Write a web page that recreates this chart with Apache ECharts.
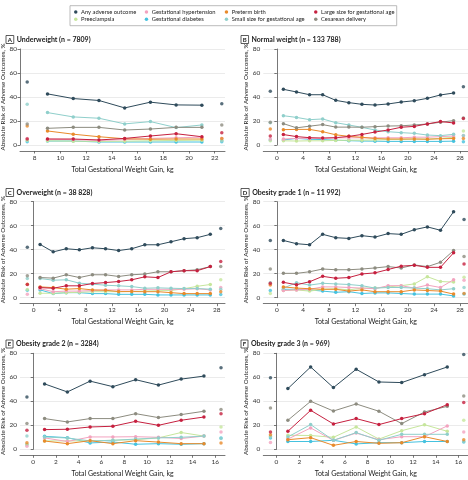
<!DOCTYPE html>
<html><head><meta charset="utf-8">
<script src="https://cdn.jsdelivr.net/npm/echarts@6/dist/echarts.min.js"></script>
<style>html,body{margin:0;padding:0;background:#fff}#c{width:468px;height:480px}</style>
</head><body><div id="c"></div>
<script>
// ---------- DATA (first and last entries are the unconnected end points) ----------
const seriesNames = ['Any adverse outcome','Gestational hypertension','Preterm birth','Large size for gestational age','Preeclampsia','Gestational diabetes','Small size for gestational age','Cesarean delivery'];

const A_x   = [7.42, 9, 11, 13, 15, 17, 19, 21, 22.55];
const A_any = [52.4, 42.6, 38.7, 37.1, 30.9, 35.7, 33.4, 33.2, 34.3];
const A_gh  = [5.5, 4.8, 4.5, 3.8, 4.5, 5.5, 6, 6.5, 5.5];
const A_ptb = [15.8, 11.7, 9, 6.9, 5.2, 4.8, 5, 5, 5.4];
const A_lga = [5, 5, 5, 4.2, 5.5, 7.5, 9.4, 6.9, 10.3];
const A_pe  = [4, 3.5, 3.2, 3, 3.2, 3.5, 3.8, 4, 4];
const A_gd  = [2.8, 3.3, 3.3, 2.5, 2.5, 2.5, 2.5, 2.5, 2.8];
const A_sga = [34, 27, 23.4, 22.3, 17.6, 19.5, 14.5, 16.7, 3.5];
const A_cs  = [17.5, 13.9, 14.7, 14.7, 12.5, 13.3, 14.7, 14.7, 16.7];
const A_ticks = [8, 10, 12, 14, 16, 18, 20, 22];

const B_x   = [-1, 1, 3, 5, 7, 9, 11, 13, 15, 17, 19, 21, 23, 25, 27, 28.5];
const B_any = [44.7, 46.4, 44.2, 41.9, 41.9, 37.2, 35.3, 33.9, 33.3, 34.2, 35.8, 36.9, 38.9, 41.7, 43.3, 48.6];
const B_gh  = [5, 5, 5.5, 5.5, 5.5, 6, 6, 6, 6, 6, 6, 6.5, 6.5, 7, 7.5, 7.8];
const B_ptb = [13.3, 12.8, 13, 13, 11.1, 8.5, 7.2, 6.4, 5.4, 5, 5, 5, 4.8, 5.2, 5.4, 5.5];
const B_lga = [7.5, 8.7, 7, 6.1, 5.8, 6.1, 7.2, 8.8, 10.8, 12.5, 14.8, 15.5, 17.6, 19.5, 18.4, 22];
const B_pe  = [3.5, 3.5, 3.3, 3.5, 3.5, 3.8, 4, 4, 4.2, 4.5, 4.5, 5, 5, 5.5, 6.5, 11.7];
const B_gd  = [4.2, 4.2, 5.5, 4.8, 4.5, 4, 3.6, 3.3, 3.2, 3, 3, 3, 3, 3, 3.2, 2.8];
const B_sga = [18.5, 24.4, 23, 21.1, 21.7, 18.6, 16.7, 14.7, 12.5, 11.1, 10.3, 9.7, 8.3, 7.8, 8.9, 8];
const B_cs  = [18.9, 17.8, 14.3, 15.7, 17, 14.9, 14.9, 14.8, 15.3, 15.8, 16, 16.7, 17.5, 19, 20.3, 22.5];
const B_ticks = [0, 4, 8, 12, 16, 20, 24, 28];

const C_x   = [-0.95, 1, 3, 5, 7, 9, 11, 13, 15, 17, 19, 21, 23, 25, 27, 28.6];
const C_any = [42.1, 44.4, 38.2, 40.8, 39.9, 41.6, 40.8, 39.3, 40.8, 44.1, 44.1, 46.6, 49.2, 50, 52.8, 57.6];
const C_gh  = [2.8, 7.5, 5, 5.5, 5.5, 6, 6.5, 6.5, 6.5, 7, 7, 7, 7, 7.5, 6.5, 8.4];
const C_ptb = [11.3, 9, 8.4, 7.1, 7.6, 6.5, 6.2, 5.1, 5.1, 5, 5, 4.2, 3.4, 3.4, 3.4, 5];
const C_lga = [11, 8.4, 7.9, 9.9, 9.9, 11.8, 12.6, 13.5, 14.9, 17.4, 16.8, 21.6, 22.5, 22.5, 25.9, 30.1];
const C_pe  = [6.8, 3.7, 3.7, 4.2, 4.5, 5, 5, 5, 5.2, 5.5, 5.8, 6, 7.5, 9.5, 11, 14.9];
const C_gd  = [6.2, 6.5, 3.4, 4.2, 4.2, 3.4, 3.4, 2.8, 2.8, 2.8, 2.3, 2.3, 2.3, 2.3, 2.3, 2.7];
const C_sga = [16, 16, 14.6, 14.9, 12.1, 11.3, 10.4, 9.9, 9.3, 7.9, 8.2, 7.9, 7.6, 7.6, 7.1, 7];
const C_cs  = [18.3, 16.8, 16.3, 19.1, 16.8, 19.1, 19.1, 17.7, 19.1, 19.7, 21.6, 21.6, 22.5, 23.3, 25.9, 25.9];
const C_ticks = [0, 4, 8, 12, 16, 20, 24, 28];

const D_x   = [-1, 1, 3, 5, 7, 9, 11, 13, 15, 17, 19, 21, 23, 25, 27, 28.6];
const D_any = [47.7, 47.7, 45, 44.1, 52.8, 50, 49.4, 51.7, 50.5, 53.4, 52.8, 56.7, 59, 56.2, 71.6, 65.2];
const D_gh  = [11, 6, 6.5, 7, 9, 9, 8.5, 8, 7.5, 10, 10, 8, 10.5, 8.5, 15, 14.5];
const D_ptb = [10.5, 9, 8, 7.5, 7, 7, 5.5, 6.5, 5, 5, 5, 6.5, 6, 5.5, 3, 3.5];
const D_lga = [12, 12.8, 10.8, 13.3, 17.8, 16.2, 16.8, 19.8, 20.7, 23.5, 26.3, 27, 25.3, 25.3, 37.4, 28];
const D_pe  = [3.5, 6, 6.5, 5.5, 7, 7.5, 6.5, 8, 8, 9, 10, 11.5, 17.5, 13.5, 13, 17];
const D_gd  = [6, 7, 7, 6.5, 5.5, 4.5, 5, 3.5, 4, 4, 3.5, 3, 3, 3, 1.5, 3];
const D_sga = [12.5, 8, 12.5, 10.5, 12, 11.5, 11, 10, 8, 8.5, 8.5, 8, 7.5, 6.5, 7.5, 8.5];
const D_cs  = [24, 20.3, 20.3, 21.6, 23.9, 23.3, 23.3, 23.9, 24.8, 25.9, 24.8, 27.3, 25.9, 29.5, 39.3, 34.3];
const D_ticks = [0, 4, 8, 12, 16, 20, 24, 28];

const E_x   = [-0.55, 1, 3, 5, 7, 9, 11, 13, 15, 16.5];
const E_any = [43.5, 54.5, 47.8, 56.8, 52.2, 58, 53.5, 58.5, 61, 68];
const E_gh  = [2.5, 9.5, 6.5, 10.3, 10.3, 10.5, 10, 9, 11, 14.4];
const E_ptb = [5.5, 6.9, 4.7, 7.2, 4.7, 7.2, 6, 4.7, 4.7, 5.3];
const E_lga = [15.8, 16.4, 16.7, 18.6, 19.2, 23.3, 20, 24.2, 26.9, 29.7];
const E_pe  = [4, 7, 7, 7, 7.5, 8, 9.5, 14, 11, 18.6];
const E_gd  = [3.9, 10.8, 9.7, 5.3, 6.1, 4.2, 4.7, 4.2, 4.7, 9.4];
const E_sga = [11.1, 10.3, 9.4, 7, 7.5, 8.5, 9.5, 10, 11, 9];
const E_cs  = [21.4, 25.6, 22.8, 25.6, 25.6, 29.7, 26.4, 28.9, 31.7, 33.1];
const E_ticks = [0, 2, 4, 6, 8, 10, 12, 14, 16];

const F_x   = [-0.53, 1, 3, 5, 7, 9, 11, 13, 15, 16.45];
const F_any = [59.7, 50.6, 68.6, 51.4, 66.7, 56.1, 55.6, 62.2, 68.6, 78.9];
const F_gh  = [5.6, 8.5, 17.8, 7.5, 13.5, 8, 10.5, 10.5, 19.5, 14.4];
const F_ptb = [12.2, 8, 9.7, 3.3, 6.5, 5, 5.5, 10.5, 6.5, 8];
const F_lga = [14.4, 15, 32.5, 21.1, 25.6, 20.6, 25.6, 29.7, 37.2, 38.9];
const F_pe  = [11, 11.7, 11.5, 10, 18.6, 8.5, 15.5, 20.5, 15, 24.2];
const F_gd  = [9.5, 6.5, 6.5, 7.5, 4.5, 5.5, 5.5, 6.5, 6.5, 6];
const F_sga = [10.5, 10.3, 20.6, 7.5, 13.9, 7.5, 12.5, 12.5, 12.5, 6.5];
const F_cs  = [34.4, 24.2, 40, 31.9, 37.8, 31.7, 21.4, 31.1, 35.8, 44.4];
const F_ticks = [0, 2, 4, 6, 8, 10, 12, 14, 16];

const yTicksMax = 80;
const panelTitles = ['Underweight (n = 7809)','Normal weight (n = 133 788)','Overweight (n = 38 828)','Obesity grade 1 (n = 11 992)','Obesity grade 2 (n = 3284)','Obesity grade 3 (n = 969)'];
const panelLetters = ['A','B','C','D','E','F'];

// ---------- STYLE / LAYOUT ----------
const colors = ['#2f4b5b','#f3a3bf','#e98a2b','#c6203f','#c6e69c','#45c2df','#8fcfcb','#8d8c80'];
const FONT = '"Liberation Sans Narrow", Lato, "Liberation Sans", sans-serif';
const panels = [
  {x:A_x, d:[A_any,A_gh,A_ptb,A_lga,A_pe,A_gd,A_sga,A_cs], ticks:A_ticks, min:6.86, max:22.8},
  {x:B_x, d:[B_any,B_gh,B_ptb,B_lga,B_pe,B_gd,B_sga,B_cs], ticks:B_ticks, min:-2.07, max:29.25},
  {x:C_x, d:[C_any,C_gh,C_ptb,C_lga,C_pe,C_gd,C_sga,C_cs], ticks:C_ticks, min:-2.07, max:29.25},
  {x:D_x, d:[D_any,D_gh,D_ptb,D_lga,D_pe,D_gd,D_sga,D_cs], ticks:D_ticks, min:-2.07, max:29.25},
  {x:E_x, d:[E_any,E_gh,E_ptb,E_lga,E_pe,E_gd,E_sga,E_cs], ticks:E_ticks, min:-1.16, max:16.85},
  {x:F_x, d:[F_any,F_gh,F_ptb,F_lga,F_pe,F_gd,F_sga,F_cs], ticks:F_ticks, min:-1.16, max:16.85}
];
const colLeft = [20, 263.3], colWidth = 205;
const rowTop = [49, 201.7, 353.3], rowHeight = 96;
const titleTop = [30.5, 183.5, 335];
const titleLeft = [1, 236];
const drawOrder = [5, 4, 1, 6, 2, 7, 3, 0];

const grid = [], xAxis = [], yAxis = [], series = [], title = [];
panels.forEach((p, i) => {
  const col = i % 2, row = Math.floor(i / 2);
  grid.push({left: colLeft[col], top: rowTop[row], width: colWidth, height: rowHeight, containLabel: false, outerBoundsMode: 'none'});
  xAxis.push({
    type: 'value', gridIndex: i, min: p.min, max: p.max, offset: 6,
    name: 'Total Gestational Weight Gain, kg', nameLocation: 'middle', nameGap: 15,
    nameTextStyle: {fontSize: 7, color: '#222', fontFamily: FONT},
    axisLine: {show: true, onZero: false, lineStyle: {color: '#555', width: 0.8}},
    axisTick: {show: true, length: 2.5, customValues: p.ticks, lineStyle: {color: '#555', width: 0.8}},
    axisLabel: {fontSize: 6.5, color: '#333', margin: 3, customValues: p.ticks, fontFamily: FONT},
    splitLine: {show: false}
  });
  yAxis.push({
    type: 'value', gridIndex: i, min: 0, max: yTicksMax, interval: 20,
    name: 'Absolute Risk of Adverse Outcomes, %', nameLocation: 'middle', nameGap: 14.5,
    nameTextStyle: {fontSize: 6.3, color: '#222', fontFamily: FONT},
    axisLine: {show: true, lineStyle: {color: '#555', width: 0.8}},
    axisTick: {show: true, length: 2.5, lineStyle: {color: '#555', width: 0.8}},
    axisLabel: {fontSize: 6.5, color: '#333', margin: 3, fontFamily: FONT},
    splitLine: {show: true, lineStyle: {color: '#e6e6e6', width: 0.8}}
  });
  title.push({
    left: titleLeft[col], top: titleTop[row],
    text: '{box|' + panelLetters[i] + '}{t|' + panelTitles[i] + '}',
    textStyle: {rich: {
      box: {fontSize: 6, fontWeight: 'bold', color: '#222', borderColor: '#333', borderWidth: 0.8, padding: [1.5, 1.8, 0.5, 1.8], fontFamily: FONT},
      t: {fontSize: 7, color: '#222', padding: [0, 0, 0, 3], fontFamily: FONT}
    }}
  });
  drawOrder.forEach(k => {
    const vals = p.d[k], xs = p.x, n = xs.length;
    const line = [];
    for (let j = 1; j < n - 1; j++) line.push([xs[j], vals[j]]);
    series.push({
      type: 'line', name: seriesNames[k], xAxisIndex: i, yAxisIndex: i, data: line,
      symbol: 'circle', symbolSize: 3.5, showSymbol: true,
      lineStyle: {color: colors[k], width: 1}, itemStyle: {color: colors[k]},
      emphasis: {disabled: true}, z: 2
    });
    series.push({
      type: 'scatter', name: seriesNames[k], xAxisIndex: i, yAxisIndex: i,
      data: [[xs[0], vals[0]], [xs[n - 1], vals[n - 1]]],
      symbol: 'circle', symbolSize: 3.5, itemStyle: {color: colors[k]},
      emphasis: {disabled: true}, z: 2
    });
  });
});

// legend: 4 columns x 2 rows
const legendOrder = [0, 1, 2, 3, 4, 5, 6, 7];
const legendCols = [74, 144.7, 224.7, 314];
const legendRows = [9, 16.3];
const legend = legendOrder.map((k, idx) => ({
  data: [seriesNames[k]], left: legendCols[idx % 4], top: legendRows[Math.floor(idx / 4)],
  icon: 'circle', itemWidth: 3.5, itemHeight: 3.5, padding: 0, itemGap: 0,
  selectedMode: false,
  textStyle: {fontSize: 5.8, color: '#222', fontFamily: FONT, padding: [0, 0, 0, -1.5]}
}));

const chart = echarts.init(document.getElementById('c'), null, {renderer: 'canvas'});
chart.setOption({
  animation: false,
  backgroundColor: '#fff',
  textStyle: {fontFamily: FONT},
  color: colors,
  title, legend, grid, xAxis, yAxis, series,
  graphic: [{type: 'rect', shape: {x: 70, y: 5.7, width: 326.7, height: 20}, style: {fill: 'none', stroke: '#aaa', lineWidth: 0.8}, silent: true}]
});
</script></body></html>
